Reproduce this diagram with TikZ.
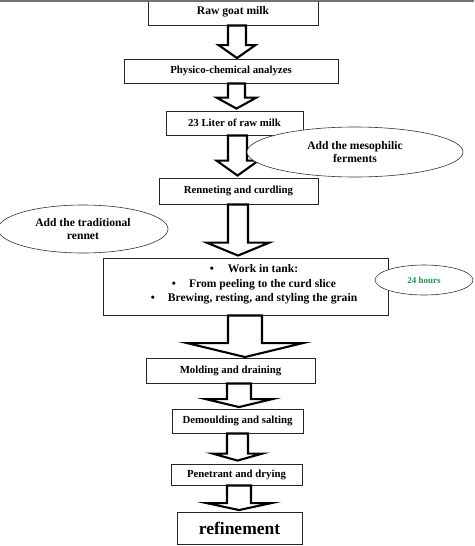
\documentclass[tikz,border=0pt]{standalone}
\usepackage{fontspec}
\setmainfont{Liberation Serif}
\usetikzlibrary{calc,shapes.geometric}
\definecolor{hourgreen}{RGB}{20,150,80}
\tikzset{
  stepbox/.style={draw=black!85, line width=0.9pt, fill=white, inner sep=0pt,
    font=\fontsize{10.8}{13}\selectfont\bfseries, align=center},
  note/.style={ellipse, draw=black!80, line width=0.6pt, fill=white, inner sep=0pt,
    font=\fontsize{11.6}{13.5}\selectfont\bfseries, align=center},
  blockarrow/.style={draw=black, line width=2.1pt, fill=white, line join=miter, miter limit=20},
}
% from, to, centre x, half shaft, half wing, gap above target, head length
\newcommand\blockarr[7]{%
  \draw[blockarrow] let \p1=(#1.south), \p2=(#2.north) in
    ({(#3-#4)*1pt},\y1) -- ({(#3-#4)*1pt},{\y2+(#6+#7)*1pt})
    -- ({(#3-#5)*1pt},{\y2+(#6+#7)*1pt}) -- ({#3*1pt},{\y2+#6*1pt})
    -- ({(#3+#5)*1pt},{\y2+(#6+#7)*1pt}) -- ({(#3+#4)*1pt},{\y2+(#6+#7)*1pt})
    -- ({(#3+#4)*1pt},\y1) -- cycle;}
\begin{document}
\begin{tikzpicture}[x=1pt,y=-1pt]
\useasboundingbox (0,0) rectangle (474,546);
\fill[white] (0,0) rectangle (474,546);

\node[stepbox, minimum width=170pt, minimum height=27pt, font=\fontsize{11.6}{13}\selectfont\bfseries] (b1) at (233,11.5) {Raw goat milk};
\node[stepbox, minimum width=214pt, minimum height=24pt] (b2) at (231,71) {Physico-chemical analyzes};
\node[stepbox, minimum width=137pt, minimum height=24pt] (b3) at (234.5,123) {23 Liter of raw milk};
\node[stepbox, minimum width=159pt, minimum height=26pt] (b4) at (238.5,191) {Renneting and curdling};
\node[stepbox, minimum width=285pt, minimum height=57pt] (b5) at (245.5,286.5) {};
\node[font=\fontsize{11.6}{14.5}\selectfont\bfseries, align=center, inner sep=0pt] (b5t) at (254,284.5)
  {\textbullet\hspace{14pt}Work in tank:\\
   \textbullet\hspace{13pt}From peeling to the curd slice\\
   \textbullet\hspace{13pt}Brewing, resting, and styling the grain};
\node[stepbox, minimum width=169pt, minimum height=25pt] (b6) at (230.5,370.5) {Molding and draining};
\node[stepbox, minimum width=131pt, minimum height=24pt] (b7) at (237.5,421) {Demoulding and salting};
\node[stepbox, minimum width=131pt, minimum height=21pt] (b8) at (236.5,474.5) {Penetrant and drying};
\node[stepbox, minimum width=125pt, minimum height=32pt, font=\fontsize{17.5}{20}\selectfont\bfseries] (b9) at (239.5,528) {refinement};

\blockarr{b1}{b2}{237}{9}{18.5}{0.5}{13}
\blockarr{b2}{b3}{236.5}{8.5}{20}{2}{11}
\blockarr{b3}{b4}{237.5}{9.5}{21}{2}{15}
\blockarr{b4}{b5}{238}{10}{31.5}{2}{13}
\blockarr{b5}{b6}{245}{17}{58}{0.5}{14}
\blockarr{b6}{b7}{239}{12}{33.5}{1.5}{8}
\blockarr{b7}{b8}{237.5}{10.5}{25}{3}{7}
\blockarr{b8}{b9}{239}{12}{32.5}{1.5}{7}

\node[note, minimum width=216pt, minimum height=50pt] (e1) at (355,152) {Add the mesophilic\\ferments};
\node[note, minimum width=170pt, minimum height=48pt] (e2) at (83,229) {Add the traditional\\rennet};
\node[note, minimum width=98pt, minimum height=30pt, font=\fontsize{9}{11}\selectfont\bfseries, text=hourgreen] (e3) at (424,280) {24 hours};

\fill[black!55] (0,0) rectangle (474,2.3);
\end{tikzpicture}
\end{document}
